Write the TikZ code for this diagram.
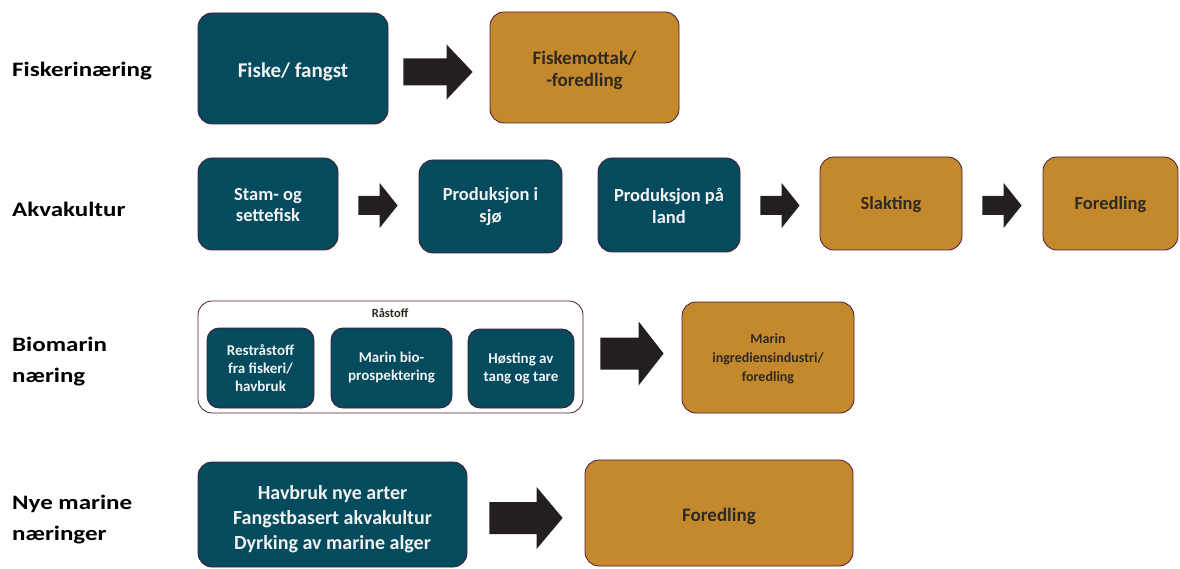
\documentclass[tikz,border=0pt]{standalone}
\usepackage{fontspec}
\setmainfont{Carlito}
\newfontfamily\labfont[FakeStretch=1.22]{Carlito}
\usetikzlibrary{calc}
\definecolor{tealc}{HTML}{034B5D}
\definecolor{goldc}{HTML}{C4892D}
\definecolor{bordc}{HTML}{4A1A35}
\definecolor{arrowc}{HTML}{231F20}
\definecolor{darkt}{HTML}{2E2A22}
\definecolor{lightt}{HTML}{F2F2F2}
\tikzset{
  box/.style={draw=bordc, line width=0.8pt, rounded corners=14pt, inner sep=0pt},
  tbox/.style={box, fill=tealc},
  gbox/.style={box, fill=goldc},
  rbox/.style={draw=bordc, line width=0.8pt, rounded corners=14pt, fill=white},
  ttxt/.style={align=center, inner sep=0pt, text=lightt},
  gtxt/.style={align=center, inner sep=0pt, text=darkt},
  lab/.style={font=\labfont\bfseries\fontsize{20.5}{31}\selectfont, align=left, anchor=west, inner sep=0pt},
}
% from, to, gap1, gap2, ycenter, shafthalf, headhalf, headlen
\newcommand\blockarrow[8]{%
  \fill[arrowc] let \p1=(#1.east), \p2=(#2.west) in
    ({\x1+#3pt},{-(#5-#6)*1pt}) -- ({\x2-#4pt-#8pt},{-(#5-#6)*1pt}) --
    ({\x2-#4pt-#8pt},{-(#5-#7)*1pt}) -- ({\x2-#4pt},{-#5*1pt}) --
    ({\x2-#4pt-#8pt},{-(#5+#7)*1pt}) -- ({\x2-#4pt-#8pt},{-(#5+#6)*1pt}) --
    ({\x1+#3pt},{-(#5+#6)*1pt}) -- cycle;}
\begin{document}
\begin{tikzpicture}[x=1pt,y=-1pt]
\useasboundingbox (0,0) rectangle (1180,569);
% row labels
\node[lab] (l1) at (12,71) {Fiskerinæring};
\node[lab] (l2) at (12,209) {Akvakultur};
\node[lab] (l3) at (12,362) {Biomarin\\næring};
\node[lab] (l4) at (12,520) {Nye marine\\næringer};
% row 1
\node[tbox, minimum width=190, minimum height=111] (fisk) at (293,68.5) {};
\node[ttxt, font=\bfseries\fontsize{21}{24}\selectfont] (fiskt) at ($(fisk.center)+(0,3)$) {Fiske/ fangst};
\node[gbox, minimum width=189, minimum height=111] (mottak) at (584.5,67.5) {};
\node[gtxt, font=\bfseries\fontsize{19}{22}\selectfont] (mottakt) at ($(mottak.center)+(0,3)$) {Fiskemottak/\\-foredling};
\blockarrow{fisk}{mottak}{15}{17}{72}{13.5}{27.5}{26}
% row 2
\node[tbox, minimum width=140, minimum height=92] (stam) at (268,204) {};
\node[ttxt, font=\bfseries\fontsize{18.5}{21}\selectfont] (stamt) at ($(stam.center)+(0,1)$) {Stam- og\\settefisk};
\node[tbox, minimum width=143, minimum height=93] (sjo) at (490.5,206.5) {};
\node[ttxt, font=\bfseries\fontsize{18.5}{22}\selectfont] (sjot) at ($(sjo.center)+(0,0.5)$) {Produksjon i\\sjø};
\node[tbox, minimum width=142, minimum height=94] (land) at (669,205) {};
\node[ttxt, font=\bfseries\fontsize{18.5}{22}\selectfont] (landt) at ($(land.center)+(0,1)$) {Produksjon på\\land};
\node[gbox, minimum width=142, minimum height=93] (slakt) at (891,203.5) {};
\node[gtxt, font=\bfseries\fontsize{18.5}{22}\selectfont] (slaktt) at ($(slakt.center)+(0,1.5)$) {Slakting};
\node[gbox, minimum width=135, minimum height=93] (fored1) at (1110.5,203.5) {};
\node[gtxt, font=\bfseries\fontsize{18.5}{22}\selectfont] (fored1t) at ($(fored1.center)+(0,1.5)$) {Foredling};
\blockarrow{stam}{sjo}{20}{21}{205.5}{9.5}{22.5}{18}
\blockarrow{land}{slakt}{20}{20}{205.5}{9.5}{22.5}{18}
\blockarrow{slakt}{fored1}{20}{21}{205.5}{9.5}{22.5}{18}
% row 3
\node[rbox, minimum width=385, minimum height=112] (raw) at (390.5,357) {};
\node[font=\bfseries\fontsize{12.5}{14}\selectfont, text=darkt, inner sep=0pt] (rawlab) at (390,313) {Råstoff};
\node[tbox, rounded corners=12pt, minimum width=107, minimum height=80] (r1) at (260.5,368) {};
\node[ttxt, font=\bfseries\fontsize{15}{18}\selectfont] (r1t) at (r1.center) {Restråstoff\\fra fiskeri/\\havbruk};
\node[tbox, rounded corners=12pt, minimum width=121, minimum height=80] (r2) at (391.5,368) {};
\node[ttxt, font=\bfseries\fontsize{15}{18}\selectfont] (r2t) at (r2.center) {Marin bio-\\prospektering};
\node[tbox, rounded corners=12pt, minimum width=106, minimum height=79] (r3) at (521,368.5) {};
\node[ttxt, font=\bfseries\fontsize{15}{18}\selectfont] (r3t) at (r3.center) {Høsting av\\tang og tare};
\node[gbox, minimum width=172, minimum height=111] (marin) at (768,357.5) {};
\node[gtxt, font=\bfseries\fontsize{14}{19}\selectfont] (marint) at ($(marin.center)+(0,1.5)$) {Marin\\ingrediensindustri/\\foredling};
\blockarrow{raw}{marin}{17}{18}{353.5}{16}{32}{25}
% row 4
\node[tbox, minimum width=269, minimum height=105] (havb) at (332.5,514.5) {};
\node[ttxt, font=\bfseries\fontsize{20}{25}\selectfont] (havbt) at ($(havb.center)+(0,5)$) {Havbruk nye arter\\Fangstbasert akvakultur\\Dyrking av marine alger};
\node[gbox, minimum width=268, minimum height=106] (fored2) at (719,513) {};
\node[gtxt, font=\bfseries\fontsize{19}{22}\selectfont] (fored2t) at ($(fored2.center)+(0,3)$) {Foredling};
\blockarrow{havb}{fored2}{22}{22}{518}{16}{31}{26}
\end{tikzpicture}
\end{document}
